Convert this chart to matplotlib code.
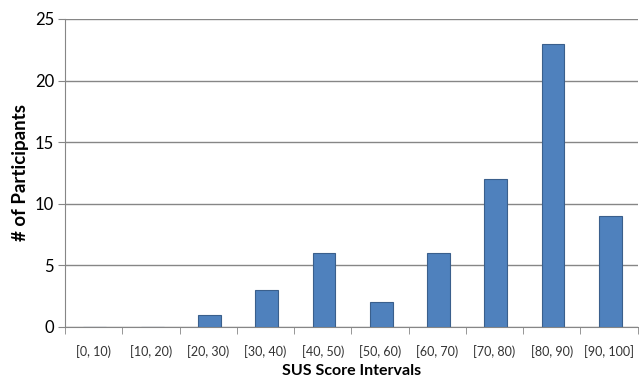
import matplotlib.pyplot as plt
import numpy as np

# SUS score histogram
intervals = ["[0, 10)", "[10, 20)", "[20, 30)", "[30, 40)", "[40, 50)",
             "[50, 60)", "[60, 70)", "[70, 80)", "[80, 90)", "[90, 100]"]
participants = [0, 0, 1, 3, 6, 2, 6, 12, 23, 9]
yticks = [0, 5, 10, 15, 20, 25]

plt.rcParams['font.family'] = ['Lato', 'DejaVu Sans']

fig = plt.figure(figsize=(6.39, 3.78), dpi=100)
ax = fig.add_axes([0.102, 0.135, 0.896, 0.815])

x = np.arange(len(intervals))
ax.bar(x + 0.02, participants, width=0.4, color='#4F81BD', edgecolor='#3A5F8C',
       linewidth=0.8, zorder=3)

ax.set_xlim(-0.5, len(intervals) - 0.5)
ax.set_ylim(0, 25)
ax.set_yticks(yticks)
ax.yaxis.grid(True, color='#868686', linewidth=1, zorder=0)

ax.set_xticks(x)
ax.set_xticklabels(intervals, fontsize=9, color='#333333')
ax.set_xticks(np.arange(-0.5, len(intervals)), minor=True)
ax.tick_params(axis='x', which='major', length=0, pad=13)
ax.tick_params(axis='x', which='minor', length=5, color='#868686', direction='out')
ax.tick_params(axis='y', labelsize=12, length=5, color='#868686', direction='out', pad=3)

for side in ['top', 'right']:
    ax.spines[side].set_visible(False)
ax.spines['left'].set_color('#868686')
ax.spines['bottom'].set_color('#868686')

ax.set_xlabel("SUS Score Intervals", fontsize=11.5, fontweight='bold', labelpad=4)
ax.set_ylabel("# of Participants", fontsize=13.5, fontweight='bold', labelpad=4)

fig.savefig("out.png", dpi=100)
